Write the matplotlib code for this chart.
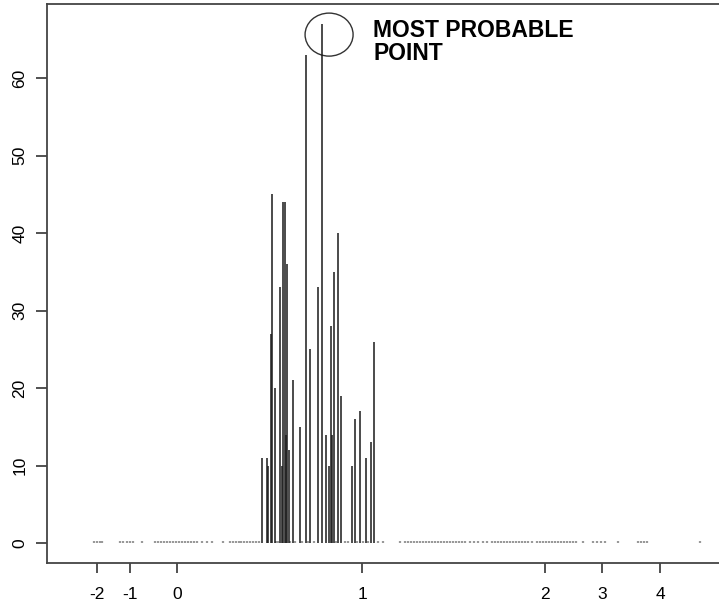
import matplotlib
matplotlib.use("Agg")
import matplotlib.pyplot as plt
from matplotlib.patches import Ellipse

plt.rcParams["font.family"] = ["Liberation Sans", "DejaVu Sans"]

# bar positions (axis units) and counts
bar_x = [262.3, 266.7, 268.3, 270.7, 272.0, 274.7, 280.0, 281.7, 283.0, 284.5,
         285.7, 287.0, 288.7, 292.7, 299.7, 305.7, 310.3, 317.7, 321.7, 325.7,
         328.7, 331.0, 332.3, 333.7, 338.0, 341.0, 352.0, 354.7, 360.3, 365.7,
         371.3, 374.3]
bar_h = [11, 11, 10, 27, 45, 20, 33, 10, 44, 44,
         14, 36, 12, 21, 15, 63, 25, 33, 67, 14,
         10, 28, 14, 35, 40, 19, 10, 16, 17, 11,
         13, 26]

# singletons that show up as tiny marks along zero
tiny_x = [94, 97, 100, 102, 120, 123, 127, 130, 133, 142,
          155, 158, 161, 164, 167, 170, 173, 176, 179, 182, 185, 188, 191, 194,
          197, 202, 207, 212, 223, 230, 233, 236, 239, 241, 244, 247, 250, 253,
          256, 259, 276, 278, 290, 295, 302, 308, 314, 336, 345, 348, 357, 363,
          368, 378, 383, 400, 405, 408, 411, 414, 417, 420, 423, 426, 429, 432,
          435, 438, 441, 444, 447, 450, 453, 456, 459, 462, 465, 470, 474, 478,
          483, 487, 492, 495, 498, 501, 504, 507, 510, 513, 516, 519, 522, 525,
          528, 532, 537, 540, 543, 546, 549, 552, 555, 558, 561, 564, 567, 570,
          573, 576, 583, 593, 597, 601, 605, 618, 638, 641, 644, 647, 700]
tiny_h = 0.3

tick_pos = [97, 130, 177, 362, 545, 602, 660]
tick_lab = ["-2", "-1", "0", "1", "2", "3", "4"]

fig = plt.figure(figsize=(7.19, 6.03), dpi=100)
ax = fig.add_axes([47 / 719, 1 - 563 / 603, 1 - 47 / 719 + 0.01, (563 - 4) / 603])

ax.vlines(tiny_x, 0, tiny_h, color="#999999", linewidth=1.6)
ax.vlines(bar_x, 0, bar_h, color="#1a1a1a", linewidth=1.1)

# circle around the tallest bar
ax.add_patch(Ellipse((329, 65.6), 48, 5.55, fill=False, edgecolor="#333333", linewidth=1.0))
ax.text(373, 67.6, "MOST PROBABLE\nPOINT", fontsize=16.5, fontweight="bold",
        va="top", ha="left", linespacing=1.0)

ax.set_xlim(47, 719 + 7)
ax.set_ylim(-2.58, 69.55)
ax.set_xticks(tick_pos)
ax.set_xticklabels(tick_lab)
ax.set_yticks(range(0, 61, 10))
ax.tick_params(axis="x", length=7, width=1.2, pad=10, labelsize=12.5, color="#333333")
ax.tick_params(axis="y", length=8, width=1.2, pad=6, labelsize=12.5, color="#333333")
for lab in ax.get_yticklabels():
    lab.set_rotation(90)
    lab.set_va("center")
for s in ax.spines.values():
    s.set_color("#444444")
    s.set_linewidth(1.3)
ax.spines["right"].set_visible(False)

fig.savefig("out.png", dpi=100)
